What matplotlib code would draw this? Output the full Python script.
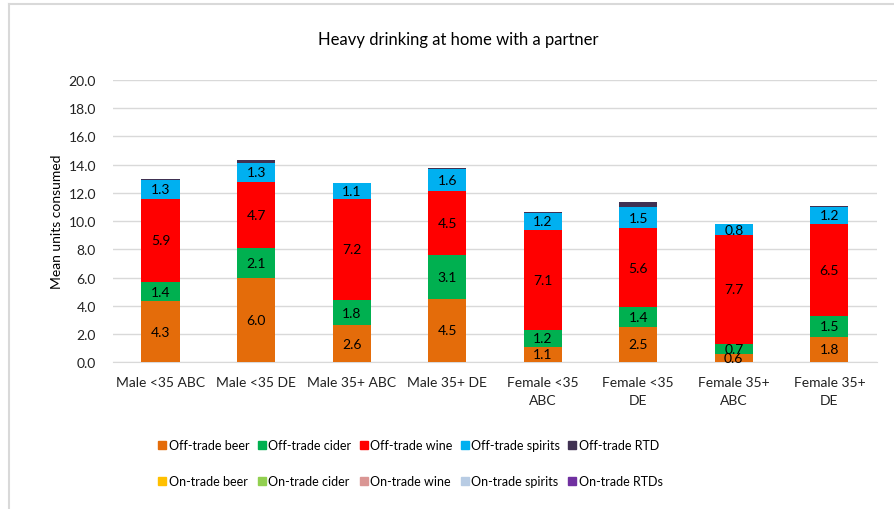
import numpy as np
import matplotlib.pyplot as plt
from matplotlib.lines import Line2D

plt.rcParams['font.family'] = ['Lato', 'DejaVu Sans']

groups = ["Male <35 ABC", "Male <35 DE", "Male 35+ ABC", "Male 35+ DE",
          "Female <35\nABC", "Female <35\nDE", "Female 35+\nABC", "Female 35+\nDE"]

series = ["Off-trade beer", "Off-trade cider", "Off-trade wine", "Off-trade spirits", "Off-trade RTD",
          "On-trade beer", "On-trade cider", "On-trade wine", "On-trade spirits", "On-trade RTDs"]

off_beer = [4.3, 6.0, 2.6, 4.5, 1.1, 2.5, 0.6, 1.8]
off_cider = [1.4, 2.1, 1.8, 3.1, 1.2, 1.4, 0.7, 1.5]
off_wine = [5.9, 4.7, 7.2, 4.5, 7.1, 5.6, 7.7, 6.5]
off_spirits = [1.3, 1.3, 1.1, 1.6, 1.2, 1.5, 0.8, 1.2]
off_rtd = [0.08, 0.25, 0.03, 0.05, 0.08, 0.33, 0.03, 0.05]
on_beer = [0, 0, 0, 0, 0, 0, 0, 0]
on_cider = [0, 0, 0, 0, 0, 0, 0, 0]
on_wine = [0, 0, 0, 0, 0, 0, 0, 0]
on_spirits = [0, 0, 0, 0, 0, 0, 0, 0]
on_rtds = [0, 0, 0, 0, 0, 0, 0, 0]

values = [off_beer, off_cider, off_wine, off_spirits, off_rtd,
          on_beer, on_cider, on_wine, on_spirits, on_rtds]
colors = ["#E46C0A", "#00B050", "#FF0000", "#00B0F0", "#403152",
          "#FFC000", "#92D050", "#DA9694", "#B8CCE4", "#7030A0"]
labelled = [True, True, True, True, False, False, False, False, False, False]

fig = plt.figure(figsize=(8.95, 5.10), dpi=100)
ax = fig.add_axes([0.126, 0.288, 0.854, 0.553])

x = np.arange(len(groups))
bottom = np.zeros(len(groups))
handles = []
for name, vals, col, lab in zip(series, values, colors, labelled):
    vals = np.array(vals, dtype=float)
    bars = ax.bar(x, vals, width=0.4, bottom=bottom, color=col, zorder=3)
    if lab:
        ax.bar_label(bars, labels=[f"{v:.1f}" for v in vals], label_type="center",
                     fontsize=10, color="black", zorder=4)
    bottom += vals
    handles.append(Line2D([], [], marker="s", linestyle="none", markersize=6,
                          markerfacecolor=col, markeredgecolor=col, label=name))

ax.set_ylim(0, 20)
ax.set_xlim(-0.5, len(groups) - 0.5)
ax.set_yticks(np.arange(0, 21, 2))
ax.set_yticklabels([f"{v:.1f}" for v in np.arange(0, 21, 2)], fontsize=10)
ax.set_xticks(x)
ax.set_xticklabels(groups, fontsize=10, linespacing=1.6)
ax.tick_params(axis="both", length=0, colors="#222222")
ax.tick_params(axis="y", pad=12)
ax.tick_params(axis="x", pad=10)
ax.grid(axis="y", color="#d9d9d9", linewidth=1, zorder=0)
for s in ["top", "right", "left"]:
    ax.spines[s].set_visible(False)
ax.spines["bottom"].set_color("#d9d9d9")
ax.set_ylabel("Mean units consumed", fontsize=10, labelpad=4)
fig.text(0.512, 0.922, "Heavy drinking at home with a partner", fontsize=12,
         ha="center", va="center")

# reorder so ncol fills row by row like Excel
order = []
for c in range(5):
    order += [c, c + 5]
fig.legend([handles[i] for i in order], [series[i] for i in order], ncol=5,
           loc="center", bbox_to_anchor=(0.458, 0.09), frameon=False, fontsize=9,
           handlelength=0.8, handletextpad=0.1, columnspacing=0.6, labelspacing=1.9)

# chart frame
fig.add_artist(Line2D([0.0095, 0.0095], [0, 0.99], transform=fig.transFigure, color="#d9d9d9", lw=1.5))
fig.add_artist(Line2D([0.0095, 1], [0.99, 0.99], transform=fig.transFigure, color="#d9d9d9", lw=1.5))

fig.savefig("out.png", dpi=100)
